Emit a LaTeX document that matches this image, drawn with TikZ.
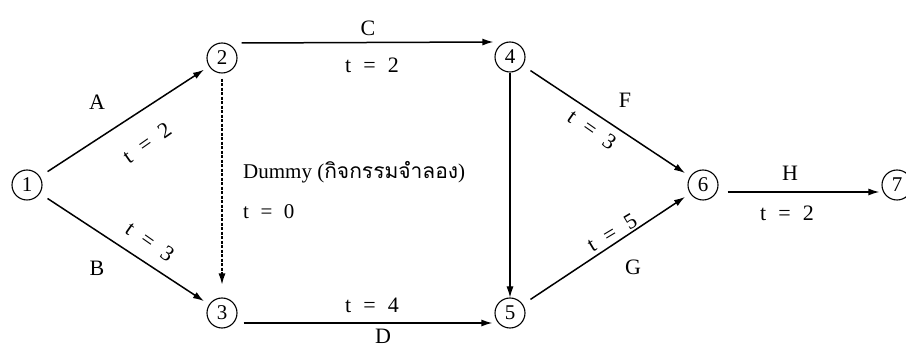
\documentclass[tikz,border=0pt]{standalone}
\usepackage{fontspec}
\setmainfont{Liberation Serif}
\newfontfamily\thaifont[Script=Thai]{Loma}
\usetikzlibrary{arrows.meta}
\newcommand{\teq}[1]{t\hspace{0.55em}=\hspace{0.55em}#1}
\begin{document}
\begin{tikzpicture}[x=1pt,y=-1pt,
  ev/.style={circle,draw,line width=1.1pt,minimum size=30pt,inner sep=0pt,font=\fontsize{21}{22}\selectfont},
  arr/.style={line width=1.5pt,-{Latex[length=11pt,width=7pt]}},
  diag/.style={arr,shorten <=9pt,shorten >=6pt},
  dum/.style={line width=1.2pt,dash pattern=on 3pt off 1.5pt,-{Latex[length=11pt,width=7pt]},shorten <=5pt,shorten >=13pt},
  lab/.style={font=\fontsize{22}{24}\selectfont,inner sep=0pt},
  small/.style={font=\fontsize{21}{24}\selectfont,inner sep=0pt,anchor=west}]
\useasboundingbox (0,0) rectangle (906,347);
\fill[white] (0,0) rectangle (906,347);
\node[ev] (n1) at (27,185) {1};
\node[ev] (n2) at (222,58) {2};
\node[ev] (n3) at (222,313) {3};
\node[ev] (n4) at (510,57) {4};
\node[ev] (n5) at (510,313) {5};
\node[ev] (n6) at (703,185) {6};
\node[ev] (n7) at (897,185) {7};
\draw[diag] (n1) -- (n2);
\draw[diag] (n1) -- (n3);
\draw[arr] ([xshift=4pt,yshift=15pt]n2.east) -- ([xshift=-1pt,yshift=15pt]n4.west);
\draw[arr] ([xshift=6pt,yshift=-10pt]n3.east) -- ([xshift=-2pt,yshift=-10pt]n5.west);
\draw[dum] (n2) -- (n3);
\draw[line width=1.1pt,-{Latex[length=11pt,width=7pt]}] (n4) -- (n5);
\draw[diag] (n4) -- (n6);
\draw[diag] (n5) -- (n6);
\draw[arr] ([xshift=9pt,yshift=-7pt]n6.east) -- ([xshift=-2pt,yshift=-7pt]n7.west);
% labels
\node[lab] (la) at (97,102) {A};
\node[lab,rotate=35] (lat) at (147,143) {\teq{2}};
\node[lab] (lb) at (97,268) {B};
\node[lab,rotate=-35] (lbt) at (150,242) {\teq{3}};
\node[lab] (lc) at (368,28) {C};
\node[lab] (lct) at (372,65) {\teq{2}};
\node[small] (ldum) at (243,172) {Dummy ({\thaifont กิจกรรมจำลอง})};
\node[small] (ldt) at (243,212) {\teq{0}};
\node[lab] (ldt2) at (372,305) {\teq{4}};
\node[lab,anchor=north] (ld) at (383,329) {D};
\node[lab] (lf) at (625,100) {F};
\node[lab,rotate=-35] (lft) at (592,130) {\teq{3}};
\node[lab,rotate=31] (lgt) at (612,233) {\teq{5}};
\node[lab] (lg) at (633,267) {G};
\node[lab] (lh) at (790,173) {H};
\node[lab] (lht) at (787,213) {\teq{2}};
\end{tikzpicture}
\end{document}
